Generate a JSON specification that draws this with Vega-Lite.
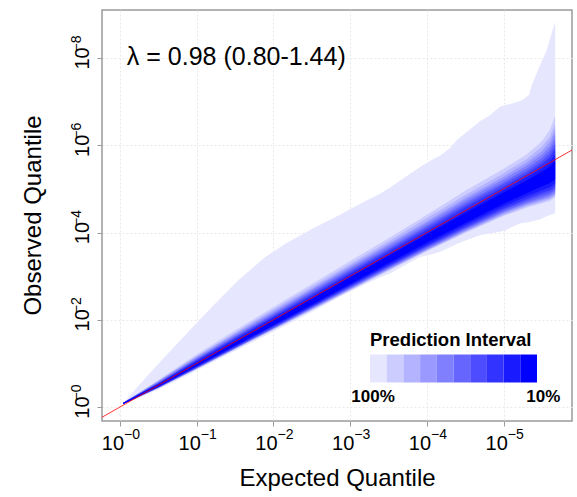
{
  "$schema": "https://vega.github.io/schema/vega-lite/v6.json",
  "width": 470,
  "height": 411,
  "autosize": {"type": "none"},
  "padding": {"left": 102, "top": 10, "right": 5, "bottom": 76},
  "config": {
    "font": "Liberation Sans",
    "view": {"stroke": "#9a9a9a", "strokeWidth": 1.5},
    "axis": {
      "gridColor": "#e8e8e8", "gridDash": [2, 2], "domain": false,
      "tickColor": "#9a9a9a", "tickSize": 5, "labelColor": "#000",
      "titleFontSize": 24, "titleFontWeight": "normal", "titleColor": "#000"
    }
  },
  "resolve": {"axis": {"x": "independent", "y": "independent"}},
  "datasets": {
    "bands": [
      {"b":1,"x":0.04,"lo":0.07,"hi":0.09},{"b":1,"x":0.3,"lo":0.25,"hi":0.6},{"b":1,"x":0.6,"lo":0.49,"hi":1.18},{"b":1,"x":0.91,"lo":0.76,"hi":1.76},{"b":1,"x":1.2,"lo":1.02,"hi":2.3},{"b":1,"x":1.55,"lo":1.33,"hi":2.92},{"b":1,"x":1.88,"lo":1.62,"hi":3.42},{"b":1,"x":2.17,"lo":1.88,"hi":3.76},{"b":1,"x":2.5,"lo":2.18,"hi":4.08},{"b":1,"x":2.86,"lo":2.52,"hi":4.4},{"b":1,"x":3.2,"lo":2.82,"hi":4.72},{"b":1,"x":3.39,"lo":2.97,"hi":4.89},{"b":1,"x":3.52,"lo":3.06,"hi":5.03},{"b":1,"x":3.7,"lo":3.24,"hi":5.25},{"b":1,"x":3.91,"lo":3.44,"hi":5.5},{"b":1,"x":4.1,"lo":3.52,"hi":5.7},{"b":1,"x":4.17,"lo":3.56,"hi":5.76},{"b":1,"x":4.3,"lo":3.66,"hi":5.93},{"b":1,"x":4.39,"lo":3.74,"hi":6.12},{"b":1,"x":4.6,"lo":3.88,"hi":6.42},{"b":1,"x":4.69,"lo":3.94,"hi":6.55},{"b":1,"x":4.82,"lo":3.98,"hi":6.69},{"b":1,"x":4.95,"lo":4.02,"hi":6.88},{"b":1,"x":5.03,"lo":4.05,"hi":6.92},{"b":1,"x":5.1,"lo":4.12,"hi":6.95},{"b":1,"x":5.2,"lo":4.2,"hi":7.01},{"b":1,"x":5.25,"lo":4.22,"hi":7.05},{"b":1,"x":5.33,"lo":4.24,"hi":7.15},{"b":1,"x":5.36,"lo":4.25,"hi":7.35},{"b":1,"x":5.4,"lo":4.27,"hi":7.52},{"b":1,"x":5.47,"lo":4.3,"hi":7.82},{"b":1,"x":5.56,"lo":4.37,"hi":8.18},{"b":1,"x":5.6,"lo":4.4,"hi":8.42},{"b":1,"x":5.67,"lo":4.44,"hi":8.83},
      {"b":2,"x":0.04,"lo":0.07,"hi":0.09},{"b":2,"x":0.5,"lo":0.43,"hi":0.62},{"b":2,"x":1.0,"lo":0.87,"hi":1.21},{"b":2,"x":1.5,"lo":1.32,"hi":1.76},{"b":2,"x":2.0,"lo":1.77,"hi":2.29},{"b":2,"x":2.5,"lo":2.22,"hi":2.82},{"b":2,"x":3.0,"lo":2.67,"hi":3.35},{"b":2,"x":3.5,"lo":3.12,"hi":3.87},{"b":2,"x":4.0,"lo":3.57,"hi":4.41},{"b":2,"x":4.5,"lo":3.99,"hi":4.96},{"b":2,"x":5.0,"lo":4.38,"hi":5.46},{"b":2,"x":5.3,"lo":4.57,"hi":5.79},{"b":2,"x":5.5,"lo":4.67,"hi":6.1},{"b":2,"x":5.6,"lo":4.72,"hi":6.35},{"b":2,"x":5.67,"lo":4.8,"hi":6.67},
      {"b":3,"x":0.04,"lo":0.07,"hi":0.09},{"b":3,"x":0.5,"lo":0.43,"hi":0.6},{"b":3,"x":1.0,"lo":0.88,"hi":1.17},{"b":3,"x":1.5,"lo":1.33,"hi":1.71},{"b":3,"x":2.0,"lo":1.78,"hi":2.24},{"b":3,"x":2.5,"lo":2.23,"hi":2.76},{"b":3,"x":3.0,"lo":2.68,"hi":3.28},{"b":3,"x":3.5,"lo":3.14,"hi":3.8},{"b":3,"x":4.0,"lo":3.59,"hi":4.33},{"b":3,"x":4.5,"lo":4.01,"hi":4.86},{"b":3,"x":5.0,"lo":4.4,"hi":5.36},{"b":3,"x":5.3,"lo":4.6,"hi":5.68},{"b":3,"x":5.5,"lo":4.7,"hi":5.97},{"b":3,"x":5.6,"lo":4.76,"hi":6.19},{"b":3,"x":5.67,"lo":4.84,"hi":6.48},
      {"b":4,"x":0.04,"lo":0.07,"hi":0.09},{"b":4,"x":0.5,"lo":0.44,"hi":0.59},{"b":4,"x":1.0,"lo":0.88,"hi":1.15},{"b":4,"x":1.5,"lo":1.34,"hi":1.68},{"b":4,"x":2.0,"lo":1.79,"hi":2.2},{"b":4,"x":2.5,"lo":2.24,"hi":2.71},{"b":4,"x":3.0,"lo":2.7,"hi":3.23},{"b":4,"x":3.5,"lo":3.15,"hi":3.74},{"b":4,"x":4.0,"lo":3.6,"hi":4.26},{"b":4,"x":4.5,"lo":4.03,"hi":4.79},{"b":4,"x":5.0,"lo":4.43,"hi":5.28},{"b":4,"x":5.3,"lo":4.63,"hi":5.6},{"b":4,"x":5.5,"lo":4.74,"hi":5.87},{"b":4,"x":5.6,"lo":4.79,"hi":6.08},{"b":4,"x":5.67,"lo":4.87,"hi":6.34},
      {"b":5,"x":0.04,"lo":0.07,"hi":0.09},{"b":5,"x":0.5,"lo":0.44,"hi":0.58},{"b":5,"x":1.0,"lo":0.89,"hi":1.13},{"b":5,"x":1.5,"lo":1.35,"hi":1.65},{"b":5,"x":2.0,"lo":1.8,"hi":2.16},{"b":5,"x":2.5,"lo":2.26,"hi":2.68},{"b":5,"x":3.0,"lo":2.71,"hi":3.19},{"b":5,"x":3.5,"lo":3.17,"hi":3.7},{"b":5,"x":4.0,"lo":3.62,"hi":4.21},{"b":5,"x":4.5,"lo":4.05,"hi":4.74},{"b":5,"x":5.0,"lo":4.46,"hi":5.22},{"b":5,"x":5.3,"lo":4.66,"hi":5.53},{"b":5,"x":5.5,"lo":4.77,"hi":5.79},{"b":5,"x":5.6,"lo":4.83,"hi":5.98},{"b":5,"x":5.67,"lo":4.91,"hi":6.23},
      {"b":6,"x":0.04,"lo":0.07,"hi":0.09},{"b":6,"x":0.5,"lo":0.45,"hi":0.56},{"b":6,"x":1.0,"lo":0.9,"hi":1.1},{"b":6,"x":1.5,"lo":1.35,"hi":1.62},{"b":6,"x":2.0,"lo":1.81,"hi":2.13},{"b":6,"x":2.5,"lo":2.27,"hi":2.64},{"b":6,"x":3.0,"lo":2.73,"hi":3.15},{"b":6,"x":3.5,"lo":3.19,"hi":3.65},{"b":6,"x":4.0,"lo":3.64,"hi":4.16},{"b":6,"x":4.5,"lo":4.08,"hi":4.68},{"b":6,"x":5.0,"lo":4.48,"hi":5.16},{"b":6,"x":5.3,"lo":4.69,"hi":5.46},{"b":6,"x":5.5,"lo":4.81,"hi":5.71},{"b":6,"x":5.6,"lo":4.87,"hi":5.89},{"b":6,"x":5.67,"lo":4.96,"hi":6.11},
      {"b":7,"x":0.04,"lo":0.07,"hi":0.09},{"b":7,"x":0.5,"lo":0.45,"hi":0.55},{"b":7,"x":1.0,"lo":0.9,"hi":1.09},{"b":7,"x":1.5,"lo":1.36,"hi":1.6},{"b":7,"x":2.0,"lo":1.82,"hi":2.1},{"b":7,"x":2.5,"lo":2.29,"hi":2.61},{"b":7,"x":3.0,"lo":2.75,"hi":3.11},{"b":7,"x":3.5,"lo":3.21,"hi":3.61},{"b":7,"x":4.0,"lo":3.67,"hi":4.12},{"b":7,"x":4.5,"lo":4.1,"hi":4.63},{"b":7,"x":5.0,"lo":4.52,"hi":5.11},{"b":7,"x":5.3,"lo":4.73,"hi":5.4},{"b":7,"x":5.5,"lo":4.86,"hi":5.64},{"b":7,"x":5.6,"lo":4.92,"hi":5.8},{"b":7,"x":5.67,"lo":5.0,"hi":6.01},
      {"b":8,"x":0.04,"lo":0.07,"hi":0.09},{"b":8,"x":0.5,"lo":0.46,"hi":0.54},{"b":8,"x":1.0,"lo":0.91,"hi":1.07},{"b":8,"x":1.5,"lo":1.38,"hi":1.57},{"b":8,"x":2.0,"lo":1.84,"hi":2.07},{"b":8,"x":2.5,"lo":2.3,"hi":2.57},{"b":8,"x":3.0,"lo":2.77,"hi":3.07},{"b":8,"x":3.5,"lo":3.23,"hi":3.57},{"b":8,"x":4.0,"lo":3.69,"hi":4.07},{"b":8,"x":4.5,"lo":4.13,"hi":4.58},{"b":8,"x":5.0,"lo":4.55,"hi":5.05},{"b":8,"x":5.3,"lo":4.77,"hi":5.34},{"b":8,"x":5.5,"lo":4.91,"hi":5.57},{"b":8,"x":5.6,"lo":4.97,"hi":5.72},{"b":8,"x":5.67,"lo":5.06,"hi":5.91},
      {"b":9,"x":0.04,"lo":0.07,"hi":0.09},{"b":9,"x":0.5,"lo":0.46,"hi":0.53},{"b":9,"x":1.0,"lo":0.93,"hi":1.04},{"b":9,"x":1.5,"lo":1.39,"hi":1.54},{"b":9,"x":2.0,"lo":1.86,"hi":2.04},{"b":9,"x":2.5,"lo":2.32,"hi":2.53},{"b":9,"x":3.0,"lo":2.79,"hi":3.03},{"b":9,"x":3.5,"lo":3.26,"hi":3.52},{"b":9,"x":4.0,"lo":3.72,"hi":4.02},{"b":9,"x":4.5,"lo":4.17,"hi":4.51},{"b":9,"x":5.0,"lo":4.6,"hi":4.98},{"b":9,"x":5.3,"lo":4.83,"hi":5.27},{"b":9,"x":5.5,"lo":4.97,"hi":5.48},{"b":9,"x":5.6,"lo":5.04,"hi":5.62},{"b":9,"x":5.67,"lo":5.13,"hi":5.78},
      {"b":10,"x":0.04,"lo":0.07,"hi":0.09},{"b":10,"x":0.5,"lo":0.47,"hi":0.52},{"b":10,"x":1.0,"lo":0.94,"hi":1.02},{"b":10,"x":1.5,"lo":1.41,"hi":1.51},{"b":10,"x":2.0,"lo":1.88,"hi":2.0},{"b":10,"x":2.5,"lo":2.35,"hi":2.49},{"b":10,"x":3.0,"lo":2.82,"hi":2.98},{"b":10,"x":3.5,"lo":3.3,"hi":3.47},{"b":10,"x":4.0,"lo":3.77,"hi":3.96},{"b":10,"x":4.5,"lo":4.22,"hi":4.45},{"b":10,"x":5.0,"lo":4.66,"hi":4.92},{"b":10,"x":5.3,"lo":4.9,"hi":5.19},{"b":10,"x":5.5,"lo":5.06,"hi":5.4},{"b":10,"x":5.6,"lo":5.13,"hi":5.51},{"b":10,"x":5.67,"lo":5.22,"hi":5.65}
    ],
    "diag": [{"x": -0.234, "y": -0.234}, {"x": 5.89, "y": 5.89}],
    "note": [{"x": 0.09, "y": 8.02, "t": "λ = 0.98 (0.80-1.44)"}]
  },
  "layer": [
    {
      "data": {"name": "bands"},
      "mark": {"type": "area", "interpolate": "linear", "clip": true},
      "encoding": {
        "x": {
          "field": "x", "type": "quantitative",
          "scale": {"domain": [-0.234, 5.89], "nice": false, "zero": false},
          "axis": {
            "orient": "bottom",
            "title": "Expected Quantile", "values": [0, 1, 2, 3, 4, 5], "grid": true,
            "labelExpr": "'10'", "labelFontSize": 20, "labelOffset": -7.5,
            "labelBaseline": "alphabetic", "labelPadding": 23,
            "titleX": 235, "titleY": 64, "titleBaseline": "alphabetic"
          }
        },
        "y": {
          "field": "lo", "type": "quantitative",
          "scale": {"domain": [-0.32, 9.1], "nice": false, "zero": false},
          "axis": {
            "orient": "left",
            "title": "Observed Quantile", "values": [0, 2, 4, 6, 8], "grid": true,
            "labelExpr": "'10'", "labelFontSize": 20, "labelOffset": 0,
            "labelAngle": -90, "labelAlign": "center", "labelBaseline": "alphabetic",
            "labelPadding": 8.5,
            "titleX": -61.5, "titleY": 205, "titleBaseline": "alphabetic", "titleAngle": -90
          }
        },
        "y2": {"field": "hi"},
        "detail": {"field": "b"},
        "color": {
          "field": "b", "type": "quantitative",
          "scale": {
            "type": "quantize", "domain": [0.5, 10.5],
            "range": ["#e6e6ff", "#ccccff", "#b3b3ff", "#9999ff", "#8080ff", "#6666ff", "#4d4dff", "#3333ff", "#1a1aff", "#0000ff"]
          },
          "legend": {
            "type": "gradient", "orient": "none", "legendX": 268, "legendY": 321,
            "direction": "horizontal", "title": "Prediction Interval",
            "titleFontSize": 18.5, "titleFontWeight": "bold", "titleColor": "#000", "titlePadding": 5,
            "gradientLength": 167, "gradientThickness": 28,
            "gradientStrokeWidth": 0,
            "labelFontSize": 17, "labelFontWeight": "bold", "labelColor": "#000", "labelOffset": 6,
            "labelOverlap": false,
            "labelExpr": "datum.value <= 1 ? '100%' : datum.value >= 9 ? '10%' : ''",
            "padding": 0,
            "encode": {"labels": {"update": {"align": {"value": "center"}, "dx": {"signal": "datum.value >= 9 ? 23 : 3"}}}}
          }
        }
      }
    },
    {
      "data": {"name": "diag"},
      "mark": {"type": "line", "color": "#ff0000", "strokeWidth": 1, "opacity": 0.8, "clip": true},
      "encoding": {
        "x": {
          "field": "x", "type": "quantitative",
          "axis": {
            "orient": "bottom",
            "title": null, "values": [0, 1, 2, 3, 4, 5], "grid": false, "tickOpacity": 0,
            "labelExpr": "'−' + datum.value", "labelFontSize": 14, "labelOffset": 11.5,
            "labelBaseline": "alphabetic", "labelPadding": 12.6
          }
        },
        "y": {
          "field": "y", "type": "quantitative",
          "axis": {
            "orient": "left",
            "title": null, "values": [0, 2, 4, 6, 8], "grid": false, "tickOpacity": 0,
            "labelExpr": "'−' + datum.value", "labelFontSize": 14, "labelOffset": -15,
            "labelAngle": -90, "labelAlign": "center", "labelBaseline": "alphabetic",
            "labelPadding": 17
          }
        }
      }
    },
    {
      "data": {"name": "note"},
      "mark": {"type": "text", "align": "left", "baseline": "middle", "fontSize": 25, "color": "#000"},
      "encoding": {
        "x": {"field": "x", "type": "quantitative", "axis": null},
        "y": {"field": "y", "type": "quantitative", "axis": null},
        "text": {"field": "t"}
      }
    }
  ]
}
